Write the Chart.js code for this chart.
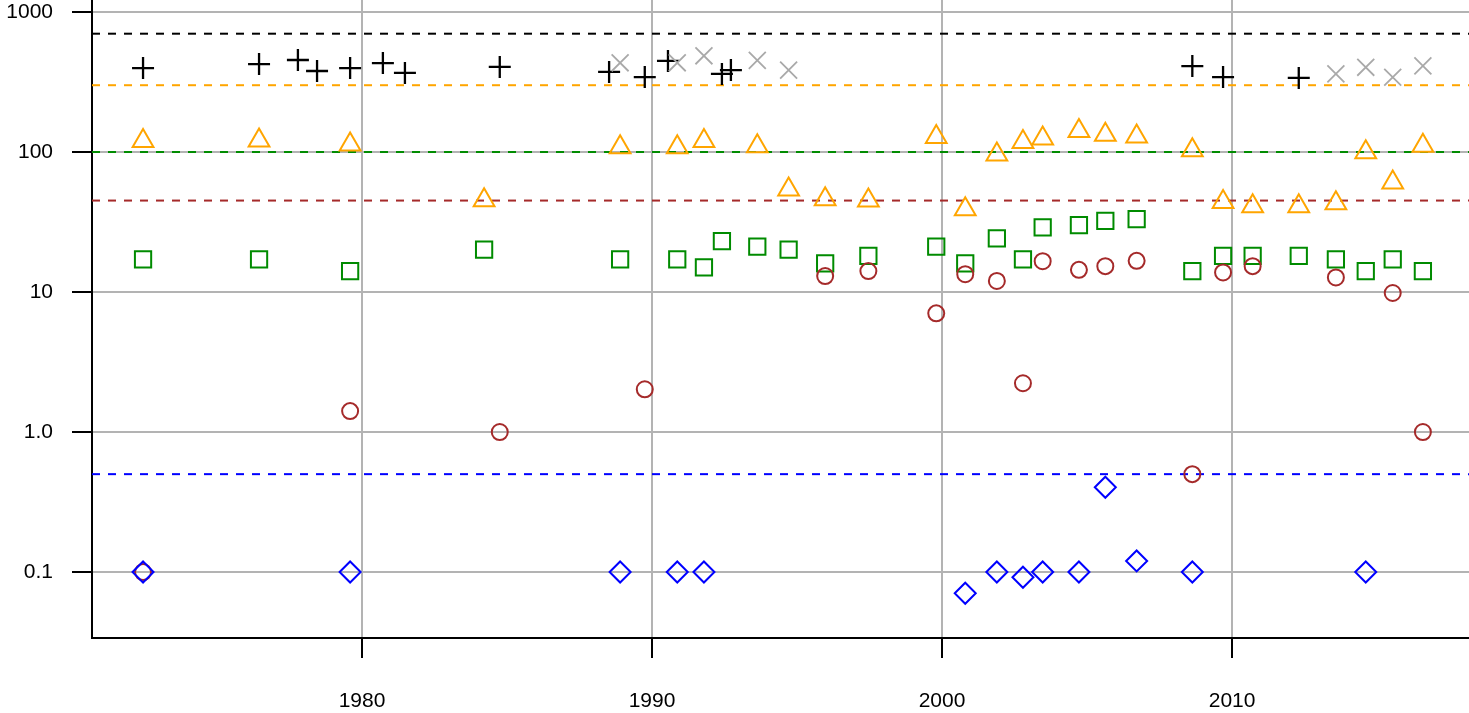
<!DOCTYPE html>
<html>
<head>
<meta charset="utf-8">
<script src="https://cdn.jsdelivr.net/npm/chart.js@4.4.0/dist/chart.umd.min.js"></script>
<style>
  html, body { margin: 0; padding: 0; background: #fff; }
  canvas { display: block; }
</style>
</head>
<body>
<canvas id="chart" width="1469" height="713"></canvas>
<script>
// sample dates (decimal years), shared by all series
const dates = [1972.45, 1976.45, 1977.79, 1978.45, 1979.59, 1980.72, 1981.48, 1984.21, 1984.75,
  1988.52, 1988.9, 1989.75, 1990.55, 1990.87, 1991.79, 1992.41, 1992.72, 1993.63, 1994.71,
  1995.97, 1997.46, 1999.8, 2000.8, 2001.89, 2002.79, 2003.47, 2004.72, 2005.63, 2006.71,
  2008.63, 2009.69, 2010.71, 2012.3, 2013.58, 2014.61, 2015.54, 2016.58];

// series values (null = no sample)
const plusVals = [398, 425, 454, 379, 398, 432, 367, null, 405,
  373, null, 343, 447, null, null, 361, 385, null, null,
  null, null, null, null, null, null, null, null, null, null,
  411, 343, null, 338, null, null, null, null];
const crossVals = [null, null, null, null, null, null, null, null, null,
  null, 434, null, null, 434, 487, null, null, 452, 385,
  null, null, null, null, null, null, null, null, null, null,
  null, null, null, null, 361, 403, 342, 413];
const triangleVals = [120, 121, null, null, 113, null, null, 45.3, null,
  null, 108, null, null, 108, 120, null, null, 110, 54,
  46, 45, 128, 39, 96, 118, 125, 141, 133, 129,
  103, 44, 41, 41, 43, 99.5, 60.5, 111];
const squareVals = [17.1, 17.1, null, null, 14.1, null, null, 20.1, null,
  null, 17.1, null, null, 17.1, 15, 23.1, null, 21.1, 20.1,
  16, 18.1, 21.1, 16, 24.2, 17.1, 29, 30.1, 32.2, 33.1,
  14.1, 18.1, 18.1, 18.1, 17.1, 14.1, 17.1, 14.1];
const circleVals = [0.1, null, null, null, 1.41, null, null, null, 1.0,
  null, null, 2.02, null, null, null, null, null, null, null,
  13, 14.1, 7.04, 13.4, 12, 2.23, 16.6, 14.4, 15.3, 16.7,
  0.5, 13.8, 15.3, null, 12.7, null, 9.84, 1.0];
const diamondVals = [0.1, null, null, null, 0.1, null, null, null, null,
  null, 0.1, null, null, 0.1, 0.1, null, null, null, null,
  null, null, null, 0.0705, 0.1, 0.0917, 0.1, 0.1, 0.403, 0.12,
  0.1, null, null, null, null, 0.1, null, null];

// horizontal reference levels
const refLevels = [700, 300, 100, 45, 0.5];

// ticks
const xTicks = [1980, 1990, 2000, 2010];
const yTicks = [0.1, 1, 10, 100, 1000];
const yTickLabels = ['0.1', '1.0', '10', '100', '1000'];

const xMin = 1970.69, xMax = 2018.17;
const yMin = 0.03378, yMax = 1218.4;

function pts(vals) {
  const out = [];
  vals.forEach((v, i) => {
    if (v !== null) out.push({ x: dates[i], y: v });
  });
  return out;
}

const refColors = ['#000000', '#FFA500', '#008B00', '#A52A2A', '#0000FF'];
const refSets = refLevels.map((lvl, i) => ({
  type: 'line',
  data: [{ x: xMin, y: lvl }, { x: xMax, y: lvl }],
  borderColor: refColors[i],
  borderWidth: 2,
  borderDash: [8, 8],
  pointRadius: 0,
  showLine: true,
  order: 10
}));

function marks(vals, style, color, radius, width, order) {
  return {
    type: 'scatter',
    data: pts(vals),
    pointStyle: style,
    pointRadius: radius,
    pointBorderColor: color,
    pointBackgroundColor: 'rgba(0,0,0,0)',
    pointBorderWidth: width,
    order: order,
    clip: false
  };
}

Chart.defaults.font.family = '"Liberation Sans", Arial, sans-serif';
Chart.defaults.font.size = 21;
Chart.defaults.color = '#000';

new Chart(document.getElementById('chart'), {
  data: {
    datasets: [
      ...refSets,
      marks(plusVals, 'cross', '#000000', 11, 2.3, 6),
      marks(crossVals, 'crossRot', '#A9A9A9', 12, 1.8, 5),
      marks(triangleVals, 'triangle', '#FFA500', 12, 2, 4),
      marks(squareVals, 'rect', '#008B00', 11.5, 2, 3),
      marks(circleVals, 'circle', '#A52A2A', 8, 2, 2),
      marks(diamondVals, 'rectRot', '#0000FF', 10.5, 2, 1)
    ]
  },
  options: {
    responsive: false,
    animation: false,
    events: [],
    layout: { padding: 0, autoPadding: false },
    plugins: { legend: { display: false }, tooltip: { enabled: false } },
    scales: {
      x: {
        type: 'linear',
        min: xMin,
        max: xMax,
        afterBuildTicks: s => { s.ticks = xTicks.map(v => ({ value: v })); },
        afterFit: s => { s.height = 75; s.paddingLeft = 0; s.paddingRight = 0; },
        ticks: { callback: v => String(v), padding: 31, maxRotation: 0, autoSkip: false },
        grid: { color: '#b3b3b3', lineWidth: 2, tickColor: '#000', tickLength: 20, tickWidth: 2 },
        border: { color: '#000', width: 2 }
      },
      y: {
        type: 'logarithmic',
        min: yMin,
        max: yMax,
        afterBuildTicks: s => { s.ticks = yTicks.map(v => ({ value: v })); },
        afterFit: s => { s.width = 92; s.paddingTop = 0; s.paddingBottom = 0; },
        ticks: {
          callback: v => yTickLabels[yTicks.indexOf(v)],
          padding: 19,
          autoSkip: false
        },
        grid: { color: '#b3b3b3', lineWidth: 2, tickColor: '#000', tickLength: 20, tickWidth: 2 },
        border: { color: '#000', width: 2 }
      }
    }
  }
});
</script>
</body>
</html>
